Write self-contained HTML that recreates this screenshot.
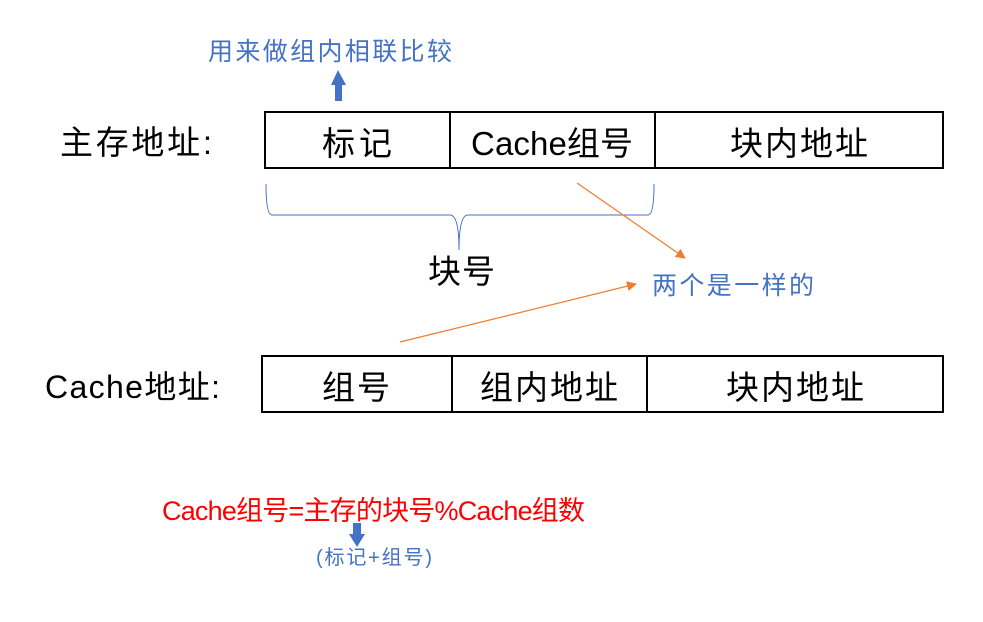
<!DOCTYPE html>
<html><head><meta charset="utf-8"><style>
body{margin:0;background:#fff;width:983px;height:617px;overflow:hidden}
svg text{font-family:"Liberation Sans","Noto Sans CJK SC",sans-serif}
</style></head><body>
<svg width="983" height="617" xmlns="http://www.w3.org/2000/svg">
<defs>
<marker id="oa" markerWidth="10" markerHeight="10" refX="9" refY="5" orient="auto" markerUnits="userSpaceOnUse"><path d="M0,0 L10,5 L0,10 z" fill="#ED7D31"/></marker>
</defs>
<text x="208" y="60" font-size="25" fill="#4472C4" textLength="244" lengthAdjust="spacing">用来做组内相联比较</text>
<polygon points="338,70 331,85 335,85 335,101 342,101 342,85 346,85" fill="#4472C4"/>
<text x="60" y="154" font-size="33" fill="#000" textLength="152" lengthAdjust="spacing">主存地址:</text>
<rect x="265" y="112" width="678" height="56" fill="none" stroke="#000" stroke-width="2"/>
<line x1="450" y1="112" x2="450" y2="168" stroke="#000" stroke-width="2"/>
<line x1="655" y1="112" x2="655" y2="168" stroke="#000" stroke-width="2"/>
<text x="322" y="155" font-size="33" textLength="70" lengthAdjust="spacing">标记</text>
<text x="471" y="155" font-size="33" textLength="162" lengthAdjust="spacing">Cache组号</text>
<text x="730" y="155" font-size="33" textLength="138" lengthAdjust="spacing">块内地址</text>
<path d="M266,184 Q266,215 272,215 L450,215 Q459,215 459,250 Q459,215 468,215 L648,215 Q654,215 654,184" fill="none" stroke="#4472C4" stroke-width="1"/>
<text x="428" y="283" font-size="33" textLength="67" lengthAdjust="spacing">块号</text>
<line x1="577" y1="183" x2="685" y2="258" stroke="#ED7D31" stroke-width="1.2" marker-end="url(#oa)"/>
<line x1="400" y1="342" x2="636" y2="284" stroke="#ED7D31" stroke-width="1.2" marker-end="url(#oa)"/>
<text x="652" y="294" font-size="25" fill="#4472C4" textLength="162" lengthAdjust="spacing">两个是一样的</text>
<text x="45" y="398" font-size="32" textLength="175" lengthAdjust="spacing">Cache地址:</text>
<rect x="262" y="356" width="681" height="56" fill="none" stroke="#000" stroke-width="2"/>
<line x1="452" y1="356" x2="452" y2="412" stroke="#000" stroke-width="2"/>
<line x1="647" y1="356" x2="647" y2="412" stroke="#000" stroke-width="2"/>
<text x="322" y="399" font-size="33" textLength="68" lengthAdjust="spacing">组号</text>
<text x="480" y="399" font-size="33" textLength="138" lengthAdjust="spacing">组内地址</text>
<text x="726" y="399" font-size="33" textLength="138" lengthAdjust="spacing">块内地址</text>
<text x="162" y="520" font-size="27" fill="#FF0000" textLength="423" lengthAdjust="spacing">Cache组号=主存的块号%Cache组数</text>
<polygon points="357,547 349,534 353,534 353,523 361,523 361,534 365,534" fill="#4472C4"/>
<text x="316" y="564" font-size="20" fill="#4472C4" textLength="116" lengthAdjust="spacing">(标记+组号)</text>
</svg>
</body></html>
